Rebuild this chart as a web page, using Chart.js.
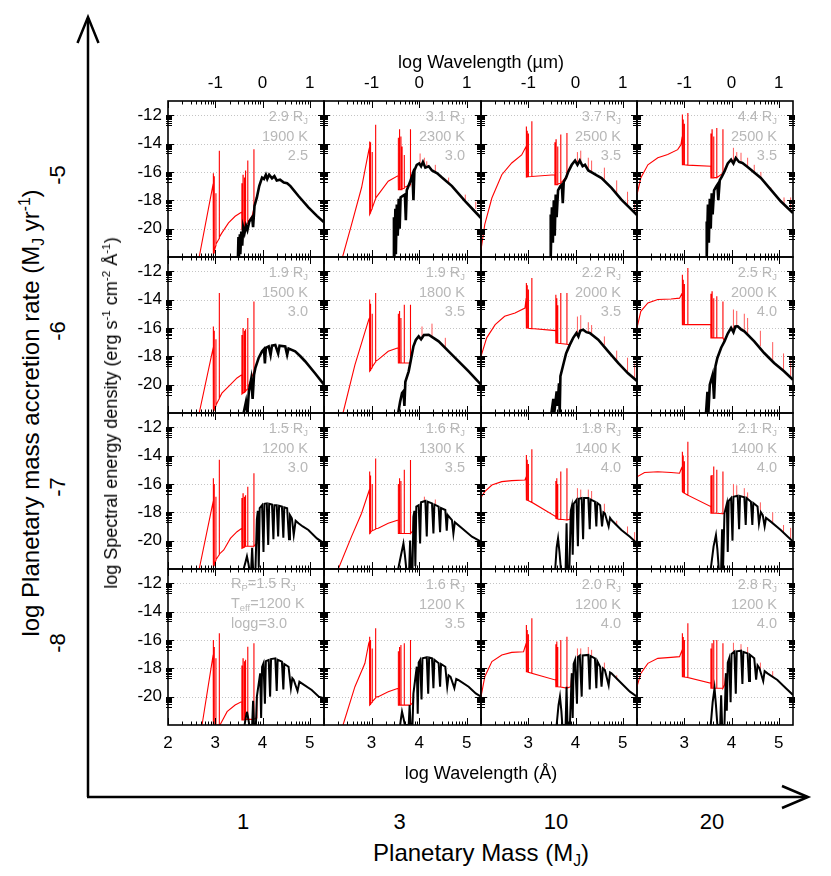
<!DOCTYPE html>
<html lang="en">
<head>
<meta charset="UTF-8" />
<title>Accretion shock + photosphere spectra</title>
<script src="https://cdn.jsdelivr.net/npm/chart.js@4.4.0/dist/chart.umd.min.js"></script>
<style>
  body { margin: 0; background: #fff; font-family: 'Liberation Sans', Arial, sans-serif; }
  #fig { position: relative; width: 831px; height: 876px; overflow: hidden; }
  #fig canvas { position: absolute; }
  .t { position: absolute; white-space: nowrap; color: #000; line-height: 1; }
  .rot { transform: translate(-50%, -50%) rotate(-90deg); }
  .cen { transform: translate(-50%, -50%); }
  .pl { position: absolute; white-space: nowrap; color: #b8b8b8; font-size: 14.5px; line-height: 16px; }
  .pl.r { transform: translateX(-100%); }
  sub { font-size: 0.65em; vertical-align: -0.3em; line-height: 0; }
  sup { font-size: 0.65em; vertical-align: 0.6em; line-height: 0; }
</style>
</head>
<body>
<div id="fig">
  <svg width="831" height="876" style="position:absolute;left:0;top:0">
    <g stroke="#000" stroke-width="2.5" fill="none">
      <line x1="88" y1="797" x2="88" y2="18" />
      <polyline points="77.5,43 88,17 98.5,43" />
      <line x1="87" y1="797" x2="807" y2="797" />
      <polyline points="782,786 808,797 782,808" />
    </g>
  </svg>
</div>

<script>
  // axis values
  const xTicksFirst = [2, 3, 4, 5];
  const xTicks = [3, 4, 5];
  const umTicks = [-1, 0, 1];
  const yTicks = [-20, -18, -16, -14, -12];

  const massLabels = ['1', '3', '10', '20'];
  const rateLabels = ['-5', '-6', '-7', '-8'];
  const radii = [['2.9', '3.1', '3.7', '4.4'], ['1.9', '1.9', '2.2', '2.5'], ['1.5', '1.6', '1.8', '2.1'], ['1.5', '1.6', '2.0', '2.8']];
  const temps = [[1900, 2300, 2500, 2500], [1500, 1800, 2000, 2000], [1200, 1300, 1400, 1400], [1200, 1200, 1200, 1200]];
  const loggs = [['2.5', '3.0', '3.5', '3.5'], ['3.0', '3.5', '3.5', '4.0'], ['3.0', '3.5', '4.0', '4.0'], ['3.0', '3.5', '4.0', '4.0']];

  // red: accretion shock + photosphere, [log lambda, log F]
  const red_m5_1 = [[2.66,-22],[2.955,-16.85],[2.958,-16.1],[2.962,-21.8],[2.975,-21.7],[2.977,-16.3],[2.98,-21.6],[3.011,-21.2],[3.013,-17.5],[3.015,-21.1],[3.083,-20.7],[3.085,-14.5],[3.087,-20.6],[3.14,-20.3],[3.28,-19.6],[3.42,-19.13],[3.56,-18.83],[3.562,-16.8],[3.565,-20.05],[3.585,-20.0],[3.587,-16.2],[3.59,-19.95],[3.615,-19.9],[3.617,-16.4],[3.62,-19.9],[3.638,-19.85],[3.64,-15.9],[3.642,-19.8],[3.685,-19.6],[3.687,-15.2],[3.689,-19.55],[3.78,-19.1],[3.815,-18.6],[3.817,-14.4],[3.819,-18.5],[3.88,-17.8]];
  const red_m5_3 = [[2.39,-22],[2.58,-19.7],[2.79,-17.1],[2.94,-14.5],[2.955,-14.3],[2.958,-13.85],[2.962,-19.0],[2.975,-18.9],[2.977,-13.9],[2.98,-18.85],[3.011,-18.6],[3.013,-14.6],[3.015,-18.55],[3.083,-17.9],[3.085,-12.67],[3.087,-17.85],[3.14,-17.6],[3.35,-16.66],[3.56,-16.26],[3.562,-13.6],[3.565,-17.25],[3.585,-17.25],[3.587,-13.0],[3.59,-17.25],[3.615,-17.25],[3.617,-13.5],[3.62,-17.25],[3.638,-17.2],[3.64,-14.2],[3.642,-17.2],[3.685,-17.15],[3.687,-14.8],[3.689,-17.1],[3.815,-16.9],[3.817,-13.0],[3.819,-16.8],[3.88,-15.9]];
  const red_m5_10 = [[2.0,-21.5],[2.08,-19.7],[2.23,-17.84],[2.44,-16.2],[2.65,-15.37],[2.86,-14.8],[2.955,-14.2],[2.958,-12.8],[2.962,-16.36],[2.975,-16.35],[2.977,-13.1],[2.98,-16.35],[3.0,-16.34],[3.002,-13.3],[3.004,-16.34],[3.073,-16.32],[3.075,-12.43],[3.077,-16.32],[3.56,-16.2],[3.562,-13.9],[3.565,-16.9],[3.585,-16.9],[3.587,-13.7],[3.59,-16.9],[3.62,-16.9],[3.622,-14.2],[3.625,-16.85],[3.685,-16.8],[3.687,-13.37],[3.689,-16.8],[3.815,-16.3],[3.817,-13.26],[3.819,-16.2],[3.85,-15.96]];
  const red_m5_20 = [[2.0,-17.6],[2.08,-16.43],[2.23,-15.5],[2.44,-15.0],[2.65,-14.78],[2.86,-14.43],[2.93,-14.08],[2.955,-13.5],[2.958,-11.96],[2.962,-15.5],[2.975,-15.5],[2.977,-12.3],[2.98,-15.5],[3.0,-15.5],[3.002,-12.6],[3.004,-15.5],[3.073,-15.52],[3.075,-11.85],[3.077,-15.52],[3.56,-15.6],[3.562,-13.3],[3.565,-16.43],[3.585,-16.43],[3.587,-13.0],[3.59,-16.43],[3.62,-16.43],[3.622,-13.5],[3.625,-16.4],[3.685,-16.4],[3.687,-12.9],[3.689,-16.4],[3.815,-16.1],[3.817,-13.0],[3.819,-16.0],[3.85,-15.96]];
  const red_m6_1 = [[2.66,-22],[2.955,-17.4],[2.958,-15.9],[2.962,-21.9],[2.975,-21.8],[2.977,-16.2],[2.98,-21.75],[3.011,-21.5],[3.013,-16.8],[3.015,-21.45],[3.083,-21.0],[3.085,-13.54],[3.087,-20.95],[3.14,-20.6],[3.32,-20.0],[3.46,-19.53],[3.56,-19.3],[3.562,-16.5],[3.565,-20.66],[3.585,-20.6],[3.587,-16.0],[3.59,-20.6],[3.615,-20.55],[3.617,-16.2],[3.62,-20.5],[3.638,-20.5],[3.64,-16.1],[3.642,-20.45],[3.685,-20.3],[3.687,-15.3],[3.689,-20.25],[3.815,-19.1],[3.817,-14.13],[3.819,-19.0],[3.85,-18.8]];
  const red_m6_3 = [[2.4,-22],[2.65,-18.6],[2.94,-15.42],[2.955,-15.3],[2.958,-14.0],[2.962,-19.06],[2.975,-19.0],[2.977,-14.3],[2.98,-18.95],[3.011,-18.8],[3.013,-15.0],[3.015,-18.75],[3.083,-18.4],[3.085,-13.54],[3.087,-18.35],[3.14,-18.24],[3.35,-17.65],[3.56,-17.4],[3.562,-15.0],[3.565,-18.47],[3.585,-18.47],[3.587,-14.8],[3.59,-18.47],[3.615,-18.47],[3.617,-15.3],[3.62,-18.47],[3.685,-18.47],[3.687,-14.36],[3.689,-18.47],[3.815,-18.47],[3.817,-14.36],[3.819,-18.4],[3.88,-17.3]];
  const red_m6_10 = [[2.0,-18.0],[2.12,-16.7],[2.3,-15.77],[2.5,-15.18],[2.72,-14.95],[2.93,-14.6],[2.955,-13.9],[2.958,-12.83],[2.962,-16.0],[2.975,-16.0],[2.977,-13.0],[2.98,-16.0],[3.0,-16.02],[3.002,-13.3],[3.004,-16.02],[3.073,-16.05],[3.075,-12.48],[3.077,-16.05],[3.58,-16.19],[3.582,-13.66],[3.585,-17.06],[3.6,-17.06],[3.602,-13.9],[3.605,-17.06],[3.62,-17.08],[3.622,-14.4],[3.625,-17.08],[3.685,-17.1],[3.687,-13.54],[3.689,-17.1],[3.815,-17.15],[3.817,-13.54],[3.819,-17.15],[3.88,-17.18]];
  const red_m6_20 = [[2.0,-16.0],[2.08,-14.83],[2.23,-14.24],[2.44,-14.0],[2.72,-13.96],[2.9,-13.9],[2.955,-13.54],[2.958,-12.25],[2.962,-15.77],[2.975,-15.77],[2.977,-12.6],[2.98,-15.77],[3.0,-15.77],[3.002,-12.9],[3.004,-15.77],[3.073,-15.77],[3.075,-11.78],[3.077,-15.77],[3.56,-15.77],[3.562,-13.6],[3.565,-16.7],[3.585,-16.7],[3.587,-13.42],[3.59,-16.7],[3.62,-16.7],[3.622,-13.9],[3.625,-16.7],[3.685,-16.7],[3.687,-13.77],[3.689,-16.7],[3.815,-16.7],[3.817,-14.13],[3.819,-16.7],[3.85,-16.95]];
  const red_m7_1 = [[2.66,-22],[2.955,-17.25],[2.958,-15.6],[2.962,-21.8],[2.975,-21.75],[2.977,-16.0],[2.98,-21.7],[3.011,-21.4],[3.013,-16.9],[3.015,-21.35],[3.083,-21.0],[3.085,-14.3],[3.087,-20.95],[3.18,-20.66],[3.32,-19.84],[3.46,-19.37],[3.56,-19.13],[3.562,-17.0],[3.565,-20.54],[3.585,-20.5],[3.587,-16.66],[3.59,-20.5],[3.615,-20.45],[3.617,-16.9],[3.62,-20.45],[3.638,-20.4],[3.64,-16.8],[3.642,-20.4],[3.685,-20.4],[3.687,-16.2],[3.689,-20.4],[3.815,-20.4],[3.817,-15.25],[3.819,-20.4],[3.87,-20.2],[3.88,-18.5]];
  const red_m7_3 = [[2.3,-22],[2.58,-19.7],[2.79,-18.07],[2.94,-16.55],[2.955,-16.4],[2.958,-15.13],[2.962,-19.5],[2.975,-19.45],[2.977,-15.4],[2.98,-19.4],[3.011,-19.3],[3.013,-16.0],[3.015,-19.3],[3.083,-19.2],[3.085,-14.2],[3.087,-19.15],[3.14,-19.13],[3.35,-18.78],[3.56,-18.55],[3.562,-16.0],[3.565,-19.5],[3.585,-19.5],[3.587,-15.6],[3.59,-19.5],[3.615,-19.5],[3.617,-15.8],[3.62,-19.5],[3.685,-19.5],[3.687,-15.0],[3.689,-19.5],[3.815,-19.5],[3.817,-14.31],[3.819,-19.5],[3.87,-19.3],[3.88,-18.3]];
  const red_m7_10 = [[2.0,-16.94],[2.08,-16.55],[2.23,-16.08],[2.44,-15.84],[2.65,-15.77],[2.93,-15.72],[2.955,-15.5],[2.958,-13.96],[2.962,-17.13],[2.975,-17.15],[2.977,-14.3],[2.98,-17.15],[3.0,-17.18],[3.002,-14.6],[3.004,-17.18],[3.073,-17.3],[3.075,-13.56],[3.077,-17.3],[3.58,-18.3],[3.582,-15.8],[3.585,-18.43],[3.6,-18.45],[3.602,-15.6],[3.605,-18.45],[3.62,-18.46],[3.622,-16.0],[3.625,-18.47],[3.685,-18.5],[3.687,-15.13],[3.689,-18.5],[3.815,-18.55],[3.817,-14.9],[3.819,-18.55],[3.88,-18.5],[3.9,-17.9]];
  const red_m7_20 = [[2.0,-15.5],[2.16,-15.2],[2.44,-15.14],[2.72,-15.2],[2.9,-15.25],[2.94,-14.9],[2.955,-14.8],[2.958,-13.73],[2.962,-16.55],[2.975,-16.6],[2.977,-14.0],[2.98,-16.6],[3.0,-16.65],[3.002,-14.4],[3.004,-16.65],[3.073,-16.8],[3.075,-13.02],[3.077,-16.8],[3.56,-17.6],[3.562,-15.4],[3.565,-18.07],[3.585,-18.07],[3.587,-15.37],[3.59,-18.07],[3.62,-18.07],[3.622,-14.78],[3.625,-18.07],[3.685,-18.07],[3.687,-15.0],[3.689,-18.07],[3.815,-18.1],[3.817,-15.13],[3.819,-18.1],[3.85,-18.07]];
  const red_m8_1 = [[2.72,-22],[2.955,-17.06],[2.958,-16.0],[2.962,-22],[2.975,-22],[2.977,-16.5],[2.98,-22],[3.011,-22],[3.013,-17.3],[3.015,-22],[3.083,-22],[3.085,-15.53],[3.087,-22],[3.1,-22],[3.25,-21.06],[3.42,-20.59],[3.56,-20.35],[3.562,-17.8],[3.565,-21.65],[3.585,-21.65],[3.587,-17.3],[3.59,-21.65],[3.615,-21.65],[3.617,-17.5],[3.62,-21.6],[3.638,-21.6],[3.64,-17.4],[3.642,-21.6],[3.685,-21.6],[3.687,-16.48],[3.689,-21.6],[3.815,-21.6],[3.817,-16.24],[3.819,-21.6],[3.87,-21.5],[3.88,-20.0]];
  const red_m8_3 = [[2.4,-22],[2.65,-19.3],[2.86,-17.65],[2.94,-16.24],[2.955,-16.1],[2.958,-15.77],[2.962,-20.6],[2.975,-20.55],[2.977,-16.0],[2.98,-20.5],[3.011,-20.4],[3.013,-16.6],[3.015,-20.35],[3.083,-20.1],[3.085,-15.18],[3.087,-20.05],[3.14,-20.0],[3.35,-19.65],[3.56,-19.41],[3.562,-16.8],[3.565,-20.6],[3.585,-20.6],[3.587,-16.5],[3.59,-20.6],[3.615,-20.6],[3.617,-16.36],[3.62,-20.6],[3.685,-20.6],[3.687,-16.24],[3.689,-20.6],[3.815,-20.6],[3.817,-16.0],[3.819,-20.6],[3.87,-20.4],[3.88,-19.77]];
  const red_m8_10 = [[2.0,-20.0],[2.08,-18.6],[2.23,-17.53],[2.44,-17.06],[2.65,-16.88],[2.9,-16.83],[2.955,-16.24],[2.958,-14.95],[2.962,-18.24],[2.975,-18.25],[2.977,-15.3],[2.98,-18.25],[3.0,-18.28],[3.002,-15.6],[3.004,-18.28],[3.073,-18.35],[3.075,-14.48],[3.077,-18.35],[3.58,-18.83],[3.582,-16.3],[3.585,-19.3],[3.6,-19.3],[3.602,-16.12],[3.605,-19.3],[3.62,-19.3],[3.622,-16.5],[3.625,-19.3],[3.685,-19.32],[3.687,-16.0],[3.689,-19.32],[3.815,-19.4],[3.817,-15.77],[3.819,-19.4],[3.9,-19.3],[3.92,-18.36]];
  const red_m8_20 = [[2.0,-19.3],[2.08,-18.36],[2.23,-17.65],[2.44,-17.3],[2.72,-17.23],[2.9,-17.18],[2.94,-16.83],[2.955,-16.7],[2.958,-15.53],[2.962,-18.6],[2.975,-18.6],[2.977,-15.8],[2.98,-18.6],[3.0,-18.62],[3.002,-16.0],[3.004,-18.62],[3.073,-18.65],[3.075,-14.83],[3.077,-18.65],[3.56,-19.06],[3.562,-16.6],[3.565,-19.41],[3.585,-19.41],[3.587,-16.24],[3.59,-19.41],[3.62,-19.41],[3.622,-16.0],[3.625,-19.41],[3.685,-19.41],[3.687,-16.0],[3.689,-19.41],[3.815,-19.41],[3.817,-16.24],[3.819,-19.41],[3.85,-19.2],[3.88,-18.36]];

  // red emission lines standing above the photosphere: [log lambda, base, top]
  const lines_m5_1 = [];
  const lines_m5_3 = [[4.02,-15.4,-14.7],[4.11,-15.5,-15.0],[4.16,-15.6,-15.25],[4.34,-16.0,-15.5],[4.62,-16.8,-16.4],[4.97,-18.0,-17.6],[5.19,-18.6,-18.1]];
  const lines_m5_10 = [[4.04,-15.5,-14.6],[4.11,-15.3,-14.5],[4.27,-15.9,-15.0],[4.34,-16.0,-15.2],[4.61,-16.6,-15.7],[4.87,-17.5,-16.6],[5.1,-18.3,-17.4],[5.25,-18.9,-18.0]];
  const lines_m5_20 = [[4.04,-15.3,-14.3],[4.11,-15.1,-14.6],[4.2,-15.3,-14.65],[4.34,-15.7,-15.0],[4.48,-16.0,-15.5],[4.62,-16.5,-16.0],[4.83,-17.3,-17.1],[5.11,-18.3,-17.8],[5.25,-18.7,-17.8]];
  const lines_m6_1 = [];
  const lines_m6_3 = [[4.06,-16.6,-15.9],[4.27,-16.7,-15.7],[4.55,-17.4,-16.7]];
  const lines_m6_10 = [[4.04,-16.5,-15.2],[4.11,-16.2,-15.1],[4.27,-16.3,-15.6],[4.34,-16.5,-15.8],[4.61,-17.2,-16.6],[4.87,-18.3,-17.6],[5.1,-19.1,-18.1],[5.25,-19.6,-18.5]];
  const lines_m6_20 = [[4.04,-16.2,-14.7],[4.11,-15.9,-14.8],[4.27,-16.2,-15.0],[4.34,-16.5,-15.3],[4.61,-17.3,-16.2],[4.87,-18.3,-17.0],[5.1,-19.0,-17.8],[5.25,-19.5,-18.3]];
  const lines_m7_1 = [];
  const lines_m7_3 = [[4.11,-17.25,-16.9],[4.34,-17.5,-17.1]];
  const lines_m7_10 = [[4.04,-17.1,-16.3],[4.11,-17.0,-16.4],[4.27,-17.0,-16.4],[4.34,-17.2,-16.5],[4.61,-18.0,-17.4],[4.87,-18.9,-18.6],[5.1,-19.5,-19.0],[5.25,-20.0,-19.4]];
  const lines_m7_20 = [[4.04,-16.9,-16.0],[4.11,-16.85,-16.1],[4.27,-16.9,-16.3],[4.34,-17.1,-16.6],[4.61,-17.9,-17.3],[4.87,-18.7,-18.0],[5.1,-19.4,-18.9],[5.25,-19.9,-19.1]];
  const lines_m8_1 = [];
  const lines_m8_3 = [];
  const lines_m8_10 = [[4.04,-17.2,-16.6],[4.11,-17.1,-16.6],[4.27,-17.06,-16.5],[4.34,-17.2,-16.7],[4.61,-18.1,-17.6],[4.87,-18.8,-18.5]];
  const lines_m8_20 = [[4.04,-16.85,-16.2],[4.2,-16.76,-16.3],[4.34,-16.95,-16.5],[4.61,-18.1,-17.6],[4.87,-18.6,-18.2]];

  // black: photosphere only
  const blk_m5_1 = [[3.48,-22],[3.49,-20.6],[3.5,-22],[3.52,-20.4],[3.53,-21.8],[3.55,-20.2],[3.57,-21.2],[3.59,-19.9],[3.62,-20.3],[3.65,-19.8],[3.68,-20.1],[3.72,-19.5],[3.78,-19.2],[3.8,-19.9],[3.83,-18.4],[3.88,-17.8],[3.93,-17.0],[3.99,-16.4],[4.03,-16.5],[4.07,-16.2],[4.1,-16.5],[4.14,-16.2],[4.2,-16.45],[4.25,-16.3],[4.3,-16.6],[4.37,-16.55],[4.45,-16.75],[4.52,-16.8],[4.59,-17.0],[4.76,-17.7],[4.97,-18.5],[5.15,-19.1],[5.3,-19.55]];
  const blk_m5_3 = [[3.46,-22],[3.47,-19.2],[3.48,-22],[3.5,-18.6],[3.51,-21.8],[3.53,-18.3],[3.55,-20.5],[3.57,-17.9],[3.59,-20.0],[3.61,-17.8],[3.65,-17.7],[3.7,-17.6],[3.72,-19.4],[3.74,-17.3],[3.81,-16.7],[3.86,-16.2],[3.88,-18.0],[3.9,-15.9],[3.95,-15.5],[4.0,-15.4],[4.04,-15.6],[4.08,-15.3],[4.13,-15.7],[4.2,-15.6],[4.27,-15.9],[4.38,-16.1],[4.48,-16.4],[4.69,-17.0],[4.97,-18.07],[5.3,-19.25]];
  const blk_m5_10 = [[3.46,-22],[3.47,-19.0],[3.48,-22],[3.5,-18.5],[3.52,-21.0],[3.54,-18.0],[3.56,-20.5],[3.58,-17.6],[3.6,-19.2],[3.63,-17.3],[3.68,-17.0],[3.71,-16.9],[3.73,-18.2],[3.75,-16.7],[3.8,-16.4],[3.85,-15.96],[3.92,-15.5],[3.99,-15.2],[4.04,-15.5],[4.09,-15.2],[4.15,-15.6],[4.2,-15.5],[4.27,-15.9],[4.37,-16.08],[4.45,-16.25],[4.55,-16.43],[4.76,-17.13],[4.97,-17.96],[5.3,-19.05]];
  const blk_m5_20 = [[3.46,-22],[3.47,-19.5],[3.48,-22],[3.5,-18.3],[3.52,-21.0],[3.54,-17.9],[3.56,-20.0],[3.58,-17.5],[3.6,-19.0],[3.63,-17.3],[3.68,-17.0],[3.7,-16.9],[3.72,-18.0],[3.75,-16.6],[3.8,-16.3],[3.85,-15.96],[3.92,-15.4],[3.99,-15.14],[4.04,-15.4],[4.09,-15.02],[4.16,-15.3],[4.23,-15.37],[4.32,-15.6],[4.41,-15.84],[4.62,-16.43],[4.83,-17.25],[5.04,-18.07],[5.3,-18.9]];
  const blk_m6_1 = [[3.6,-22],[3.65,-21.2],[3.68,-22],[3.71,-20.5],[3.76,-19.6],[3.79,-21.0],[3.82,-19.3],[3.85,-18.8],[3.92,-18.1],[3.99,-17.65],[4.03,-17.5],[4.05,-18.5],[4.07,-17.4],[4.13,-17.3],[4.17,-17.9],[4.2,-17.25],[4.27,-17.2],[4.33,-17.8],[4.36,-17.25],[4.48,-17.3],[4.52,-17.9],[4.55,-17.45],[4.69,-17.65],[4.8,-18.0],[4.9,-18.35],[5.11,-19.2],[5.3,-20.0]];
  const blk_m6_3 = [[3.56,-22],[3.6,-21.2],[3.64,-20.6],[3.67,-20.47],[3.69,-21.5],[3.71,-19.8],[3.78,-19.06],[3.83,-18.2],[3.88,-17.3],[3.93,-16.85],[3.99,-16.6],[4.04,-16.8],[4.1,-16.5],[4.2,-16.48],[4.3,-16.7],[4.41,-16.95],[4.62,-17.65],[4.83,-18.36],[5.04,-19.06],[5.3,-20.0]];
  const blk_m6_10 = [[3.49,-22],[3.53,-21.0],[3.55,-22],[3.6,-20.47],[3.62,-21.5],[3.65,-19.9],[3.665,-22],[3.68,-19.4],[3.74,-18.6],[3.8,-17.8],[3.88,-17.18],[3.95,-16.7],[4.02,-16.36],[4.06,-16.6],[4.1,-16.2],[4.16,-16.12],[4.23,-16.3],[4.3,-16.36],[4.48,-16.83],[4.69,-17.65],[4.9,-18.47],[5.11,-19.2],[5.3,-19.75]];
  const blk_m6_20 = [[3.46,-22],[3.49,-20.5],[3.51,-22],[3.54,-20.0],[3.56,-19.77],[3.6,-19.3],[3.63,-21.0],[3.66,-18.7],[3.7,-18.12],[3.78,-17.4],[3.85,-16.95],[3.92,-16.4],[3.99,-16.0],[4.04,-16.3],[4.08,-15.9],[4.13,-15.89],[4.2,-16.1],[4.27,-16.24],[4.48,-16.95],[4.69,-17.77],[4.9,-18.47],[5.11,-19.06],[5.3,-19.66]];
  const blk_m7_1 = [[3.6,-22],[3.64,-21.5],[3.67,-21.1],[3.7,-21.6],[3.72,-22],[3.76,-22],[3.78,-20.5],[3.8,-22],[3.85,-22],[3.88,-18.5],[3.9,-17.9],[3.92,-21.9],[3.94,-17.7],[3.99,-17.5],[4.02,-20.8],[4.04,-17.4],[4.09,-17.37],[4.12,-20.3],[4.14,-17.4],[4.2,-17.45],[4.23,-19.9],[4.25,-17.5],[4.3,-17.5],[4.33,-19.7],[4.35,-17.55],[4.41,-17.6],[4.44,-19.8],[4.46,-17.65],[4.52,-17.72],[4.56,-19.9],[4.58,-18.2],[4.62,-18.43],[4.66,-19.6],[4.7,-18.6],[4.76,-18.78],[4.85,-19.0],[4.97,-19.25],[5.15,-19.84],[5.3,-20.19]];
  const blk_m7_3 = [[3.56,-22],[3.62,-21.0],[3.67,-20.2],[3.7,-21.0],[3.73,-22],[3.79,-22],[3.81,-20.0],[3.83,-22],[3.86,-22],[3.88,-18.3],[3.9,-17.9],[3.92,-21.8],[3.94,-17.6],[3.99,-17.5],[4.02,-20.2],[4.04,-17.3],[4.13,-17.2],[4.16,-19.7],[4.18,-17.25],[4.27,-17.37],[4.3,-19.5],[4.32,-17.45],[4.41,-17.6],[4.44,-19.4],[4.46,-17.7],[4.55,-17.84],[4.58,-19.3],[4.6,-18.2],[4.69,-18.55],[4.72,-19.5],[4.75,-18.7],[4.9,-19.13],[5.11,-19.72],[5.3,-20.07]];
  const blk_m7_10 = [[3.57,-22],[3.6,-20.5],[3.63,-19.84],[3.66,-20.8],[3.69,-22],[3.79,-22],[3.81,-18.78],[3.83,-22],[3.87,-22],[3.9,-17.9],[3.92,-17.6],[3.94,-21.0],[3.96,-17.4],[4.02,-17.13],[4.05,-20.4],[4.07,-17.05],[4.13,-17.0],[4.16,-19.9],[4.18,-17.0],[4.27,-17.0],[4.3,-19.2],[4.32,-17.1],[4.41,-17.25],[4.44,-19.0],[4.46,-17.35],[4.52,-17.5],[4.56,-19.0],[4.59,-18.0],[4.62,-18.07],[4.7,-19.0],[4.73,-18.4],[4.76,-18.55],[4.97,-19.25],[5.15,-19.72],[5.3,-20.19]];
  const blk_m7_20 = [[3.56,-22],[3.62,-20.4],[3.67,-19.6],[3.7,-20.6],[3.73,-22],[3.78,-22],[3.8,-19.2],[3.82,-22],[3.84,-22],[3.85,-18.07],[3.9,-17.4],[3.92,-20.8],[3.94,-17.2],[3.99,-17.0],[4.02,-20.0],[4.04,-16.9],[4.13,-16.83],[4.16,-19.2],[4.18,-16.85],[4.27,-16.94],[4.3,-18.9],[4.32,-17.0],[4.41,-17.25],[4.44,-18.9],[4.46,-17.35],[4.55,-17.6],[4.58,-18.8],[4.62,-18.0],[4.66,-18.2],[4.7,-19.0],[4.73,-18.4],[4.83,-18.66],[5.04,-19.25],[5.19,-19.72],[5.3,-20.07]];
  const blk_m8_1 = [[3.62,-22],[3.66,-21.2],[3.67,-21.06],[3.69,-21.4],[3.72,-22],[3.78,-22],[3.8,-20.3],[3.82,-22],[3.86,-22],[3.88,-20.0],[3.95,-18.36],[3.97,-21.5],[3.99,-17.9],[4.02,-17.65],[4.05,-20.5],[4.07,-17.5],[4.13,-17.42],[4.16,-20.0],[4.18,-17.35],[4.27,-17.3],[4.3,-19.6],[4.32,-17.4],[4.41,-17.53],[4.44,-19.5],[4.46,-17.7],[4.55,-17.89],[4.6,-19.4],[4.63,-18.7],[4.66,-18.83],[4.74,-19.6],[4.78,-18.95],[4.83,-19.06],[5.04,-19.53],[5.19,-20.0],[5.3,-20.12]];
  const blk_m8_3 = [[3.6,-22],[3.62,-21.5],[3.64,-21.06],[3.67,-21.5],[3.7,-22],[3.78,-22],[3.8,-20.6],[3.82,-22],[3.86,-22],[3.88,-19.77],[3.95,-17.89],[3.97,-21.2],[3.99,-17.6],[4.02,-17.42],[4.05,-20.2],[4.07,-17.3],[4.16,-17.23],[4.19,-19.8],[4.21,-17.25],[4.27,-17.3],[4.3,-19.4],[4.32,-17.4],[4.41,-17.65],[4.44,-19.3],[4.46,-17.7],[4.55,-17.89],[4.59,-19.3],[4.62,-18.5],[4.66,-18.6],[4.74,-19.4],[4.78,-18.75],[4.83,-18.83],[5.04,-19.3],[5.19,-19.77],[5.3,-20.0]];
  const blk_m8_10 = [[3.6,-22],[3.64,-20.6],[3.67,-20.0],[3.7,-21.0],[3.72,-22],[3.79,-22],[3.81,-19.3],[3.83,-22],[3.88,-22],[3.92,-18.36],[3.94,-21.5],[3.96,-17.7],[3.99,-17.42],[4.03,-20.5],[4.05,-17.2],[4.09,-17.1],[4.13,-20.0],[4.15,-17.1],[4.27,-17.06],[4.3,-19.5],[4.32,-17.15],[4.41,-17.3],[4.44,-19.4],[4.46,-17.5],[4.52,-17.89],[4.55,-19.3],[4.58,-18.0],[4.62,-18.12],[4.7,-19.2],[4.73,-18.3],[4.76,-18.36],[4.97,-19.06],[5.15,-19.65],[5.3,-20.0]];
  const blk_m8_20 = [[3.56,-22],[3.6,-20.4],[3.64,-19.41],[3.67,-20.6],[3.7,-22],[3.76,-22],[3.78,-19.9],[3.8,-22],[3.85,-22],[3.88,-18.36],[3.9,-21.0],[3.92,-17.6],[3.95,-17.3],[3.98,-20.4],[4.0,-17.0],[4.06,-16.83],[4.09,-19.8],[4.11,-16.8],[4.2,-16.76],[4.23,-19.1],[4.25,-16.85],[4.34,-16.95],[4.37,-18.9],[4.39,-17.05],[4.48,-17.3],[4.52,-18.8],[4.55,-17.8],[4.59,-18.0],[4.67,-18.9],[4.7,-18.2],[4.76,-18.36],[4.97,-18.83],[5.15,-19.41],[5.3,-19.88]];

  const redGrid = [
    [red_m5_1, red_m5_3, red_m5_10, red_m5_20],
    [red_m6_1, red_m6_3, red_m6_10, red_m6_20],
    [red_m7_1, red_m7_3, red_m7_10, red_m7_20],
    [red_m8_1, red_m8_3, red_m8_10, red_m8_20]
  ];
  const linesGrid = [
    [lines_m5_1, lines_m5_3, lines_m5_10, lines_m5_20],
    [lines_m6_1, lines_m6_3, lines_m6_10, lines_m6_20],
    [lines_m7_1, lines_m7_3, lines_m7_10, lines_m7_20],
    [lines_m8_1, lines_m8_3, lines_m8_10, lines_m8_20]
  ];
  const blkGrid = [
    [blk_m5_1, blk_m5_3, blk_m5_10, blk_m5_20],
    [blk_m6_1, blk_m6_3, blk_m6_10, blk_m6_20],
    [blk_m7_1, blk_m7_3, blk_m7_10, blk_m7_20],
    [blk_m8_1, blk_m8_3, blk_m8_10, blk_m8_20]
  ];

  // layout
  const colLeft = [168, 324, 481, 637];
  const colWidth = [156, 157, 156, 156];
  const rowTop = [101, 257, 413, 569];
  const rowHeight = 156;
  const PAD = { l: 60, r: 8, t: 34, b: 34 };
  const FONT = "'Liberation Sans', Arial, sans-serif";

  Chart.defaults.font.family = FONT;
  const fig = document.getElementById('fig');

  // dotted grid, frame and log-style minor ticks
  const panelFrame = {
    id: 'panelFrame',
    beforeDatasetsDraw(chart) {
      const { ctx, chartArea: a, scales } = chart;
      ctx.save();
      ctx.strokeStyle = '#c4c4c4';
      ctx.lineWidth = 1;
      ctx.setLineDash([1, 2]);
      yTicks.forEach(v => {
        const py = Math.round(scales.y.getPixelForValue(v)) + 0.5;
        ctx.beginPath(); ctx.moveTo(a.left, py); ctx.lineTo(a.right, py); ctx.stroke();
      });
      ctx.restore();
    },
    afterDatasetsDraw(chart) {
      const { ctx, chartArea: a, scales } = chart;
      ctx.save();
      ctx.strokeStyle = '#000';
      ctx.lineWidth = 1;
      const seg = (x1, y1, x2, y2) => { ctx.beginPath(); ctx.moveTo(x1, y1); ctx.lineTo(x2, y2); ctx.stroke(); };
      // x ticks top and bottom
      [2, 3, 4, 5].forEach(d => {
        for (let k = 1; k <= 9; k++) {
          const v = d + Math.log10(k);
          if (v > 5.3) continue;
          const px = Math.round(scales.x.getPixelForValue(v)) + 0.5;
          const len = k === 1 ? 7 : 3.5;
          seg(px, a.top, px, a.top + len);
          seg(px, a.bottom, px, a.bottom - len);
        }
      });
      // y ticks left and right, cluster below each major
      yTicks.forEach(v => {
        for (let k = 2; k <= 10; k++) {
          const val = v - 1 + Math.log10(k);
          const py = Math.round(scales.y.getPixelForValue(val)) + 0.5;
          const len = k === 10 ? 6 : 4;
          seg(a.left - 2, py, a.left + len, py);
          seg(a.right + 2, py, a.right - len, py);
        }
      });
      ctx.lineWidth = 1.6;
      ctx.strokeRect(a.left, a.top, a.right - a.left, a.bottom - a.top);
      ctx.restore();
    }
  };

  function axis(position, min, max, ticks, show, size, padding) {
    return {
      type: 'linear', position, min, max,
      grid: { display: false, drawTicks: false, tickLength: 0 },
      border: { display: false },
      ticks: { display: show, font: { family: FONT, size: 17 }, color: '#000', padding, autoSkip: false, maxRotation: 0, callback: v => String(v) },
      afterBuildTicks: s => { s.ticks = ticks.map(v => ({ value: v })); },
      afterFit: s => { if (s.isHorizontal()) s.height = size; else s.width = size; }
    };
  }

  function addText(html, x, y, cls, size) {
    const d = document.createElement('div');
    d.className = 't ' + cls;
    d.style.left = x + 'px';
    d.style.top = y + 'px';
    d.style.fontSize = size + 'px';
    d.innerHTML = html;
    fig.appendChild(d);
  }

  function addPanelText(html, x, y, right) {
    const d = document.createElement('div');
    d.className = 'pl' + (right ? ' r' : '');
    d.style.left = x + 'px';
    d.style.top = (y - 8) + 'px';
    d.innerHTML = html;
    fig.appendChild(d);
  }

  for (let r = 0; r < 4; r++) {
    for (let c = 0; c < 4; c++) {
      const W = colWidth[c], H = rowHeight;
      const cv = document.createElement('canvas');
      cv.width = W + PAD.l + PAD.r;
      cv.height = H + PAD.t + PAD.b;
      cv.style.left = (colLeft[c] - PAD.l) + 'px';
      cv.style.top = (rowTop[r] - PAD.t) + 'px';
      fig.appendChild(cv);

      const emission = linesGrid[r][c].flatMap(s => [[s[0], s[1]], [s[0], s[2]], [s[0], null]]);

      new Chart(cv, {
        type: 'line',
        data: {
          datasets: [
            { data: blkGrid[r][c], borderColor: '#000', borderWidth: r < 2 ? 2.6 : 2, pointRadius: 0, tension: 0 },
            { data: emission, borderColor: '#ff5a5a', borderWidth: 1, pointRadius: 0, tension: 0, spanGaps: false },
            { data: redGrid[r][c], borderColor: '#ff0000', borderWidth: 1.1, pointRadius: 0, tension: 0 }
          ]
        },
        options: {
          responsive: false,
          animation: false,
          devicePixelRatio: 1,
          events: [],
          layout: { padding: 0 },
          plugins: { legend: { display: false }, tooltip: { enabled: false } },
          scales: {
            x: axis('bottom', 2, 5.3, c === 0 ? xTicksFirst : xTicks, r === 3, PAD.b, 8),
            x2: axis('top', -2, 1.3, umTicks, r === 0, PAD.t, 7),
            y: axis('left', -22, -11, yTicks, c === 0, PAD.l, 6),
            y2: axis('right', -22, -11, yTicks, false, PAD.r, 0)
          }
        },
        plugins: [panelFrame]
      });

      // panel parameters
      const right = colLeft[c] + W - 16;
      const top = rowTop[r];
      if (r === 3 && c === 0) {
        const lx = colLeft[c] + 63;
        addPanelText('R<sub>P</sub>=' + radii[r][c] + ' R<sub>J</sub>', lx, top + 14, false);
        addPanelText('T<sub>eff</sub>=' + temps[r][c] + ' K', lx, top + 34, false);
        addPanelText('logg=' + loggs[r][c], lx, top + 54, false);
      } else {
        addPanelText(radii[r][c] + ' R<sub>J</sub>', right, top + 15, true);
        addPanelText(temps[r][c] + ' K', right, top + 35, true);
        addPanelText(loggs[r][c], right, top + 54, true);
      }
    }
  }

  // axis titles
  addText('log Wavelength (&micro;m)', 481, 62, 'cen', 18);
  addText('log Wavelength (&Aring;)', 481, 773, 'cen', 18);
  addText('log Spectral energy density (erg s<sup>-1</sup> cm<sup>-2</sup> &Aring;<sup>-1</sup>)', 111, 413, 'rot', 18);
  addText('log Planetary mass accretion rate (M<sub>J</sub> yr<sup>-1</sup>)', 31, 413, 'rot', 24);
  addText('Planetary Mass (M<sub>J</sub>)', 481, 853, 'cen', 24);
  rateLabels.forEach((t, i) => addText(t, 58, rowTop[i] + rowHeight / 2 - 4, 'rot', 22));
  massLabels.forEach((t, i) => addText(t, colLeft[i] + colWidth[i] / 2 - 3, 822, 'cen', 22));
</script>
</body>
</html>
